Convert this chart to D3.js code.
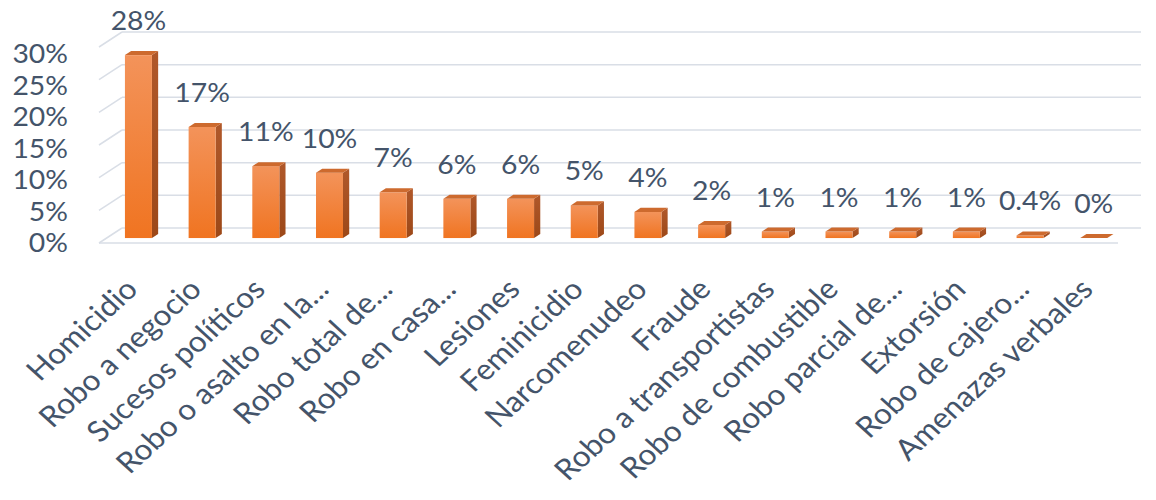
<!DOCTYPE html>
<html>
<head>
<meta charset="utf-8">
<script src="https://cdn.jsdelivr.net/npm/d3@7/dist/d3.min.js"></script>
<style>
  html, body { margin: 0; padding: 0; background: #ffffff; }
  svg { display: block; }
  text { font-family: Lato, "Open Sans", sans-serif; fill: #44546a; }
</style>
</head>
<body>
<svg id="chart" width="1156" height="500"></svg>
<script>
const categories = [
  "Homicidio", "Robo a negocio", "Sucesos políticos", "Robo o asalto en la...",
  "Robo total de...", "Robo en casa...", "Lesiones", "Feminicidio",
  "Narcomenudeo", "Fraude", "Robo a transportistas", "Robo de combustible",
  "Robo parcial de...", "Extorsión", "Robo de cajero...", "Amenazas verbales"
];
const values = [28, 17, 11, 10, 7, 6, 6, 5, 4, 2, 1, 1, 1, 1, 0.4, 0];
const valueLabels = ["28%", "17%", "11%", "10%", "7%", "6%", "6%", "5%", "4%", "2%", "1%", "1%", "1%", "1%", "0.4%", "0%"];
const yTicks = [0, 5, 10, 15, 20, 25, 30];

const svg = d3.select("#chart");
const DX = 23, DY = 15;          // depth offset of the 3D box
const D0 = 0.33, D1 = 0.6;       // bar depth span
const SX = 1.09;                 // horizontal stretch of the text

const x = d3.scaleBand().domain(categories).range([99, 1118])
  .paddingInner(0.576).paddingOuter(0.288);
const y = d3.scaleLinear().domain([0, 30]).range([243, 47]);
const yLab = d3.scaleLinear().domain([0, 30]).range([243, 54]);

const P = (px, v, d) => [px + d * DX, y(v) - d * DY];

// gradients
const defs = svg.append("defs");
const gFront = defs.append("linearGradient").attr("id", "gFront").attr("x1", 0).attr("y1", 0).attr("x2", 0).attr("y2", 1);
gFront.append("stop").attr("offset", "0%").attr("stop-color", "#f3935a");
gFront.append("stop").attr("offset", "100%").attr("stop-color", "#f07421");
const gSide = defs.append("linearGradient").attr("id", "gSide").attr("x1", 0).attr("y1", 0).attr("x2", 0).attr("y2", 1);
gSide.append("stop").attr("offset", "0%").attr("stop-color", "#b0582a");
gSide.append("stop").attr("offset", "100%").attr("stop-color", "#9c4818");

// grid: back wall, side wall, floor
const grid = svg.append("g").attr("stroke", "#d9dee6").attr("stroke-width", 1.5).attr("fill", "none");
yTicks.forEach(v => {
  const a = P(99, v, 1), b = P(1118, v, 1), f = P(99, v, 0);
  grid.append("line").attr("x1", a[0]).attr("y1", a[1]).attr("x2", b[0]).attr("y2", b[1]);
  grid.append("line").attr("x1", f[0]).attr("y1", f[1]).attr("x2", a[0]).attr("y2", a[1]);
});
{
  const a = P(99, 0, 0), b = P(1118, 0, 0);
  grid.append("line").attr("x1", a[0]).attr("y1", a[1]).attr("x2", b[0]).attr("y2", b[1]);
}

// y axis labels
const yAxis = d3.axisLeft(yLab).tickValues(yTicks).tickSize(0).tickPadding(0).tickFormat(d => d + "%");
const ya = svg.append("g").attr("transform", "translate(68,0)").call(yAxis);
ya.select(".domain").remove();
ya.selectAll(".tick").attr("transform", d => `translate(0,${yLab(d)}) scale(${SX},1)`);
ya.selectAll("text").attr("font-size", 26).attr("font-family", "Lato, sans-serif").attr("fill", "#44546a").attr("dy", "0.35em");

// bars
const poly = pts => pts.map(p => p.join(",")).join(" ");
const bars = svg.append("g");
categories.forEach((c, i) => {
  const v = values[i];
  const bx = x(c), bw = x.bandwidth();
  bars.append("polygon").attr("fill", "url(#gSide)")
    .attr("points", poly([P(bx + bw, 0, D0), P(bx + bw, v, D0), P(bx + bw, v, D1), P(bx + bw, 0, D1)]));
  const f0 = P(bx, v, D0), f1 = P(bx + bw, 0, D0);
  if (f1[1] - f0[1] > 0) {
    bars.append("rect").attr("fill", "url(#gFront)")
      .attr("x", f0[0]).attr("y", f0[1]).attr("width", f1[0] - f0[0]).attr("height", f1[1] - f0[1]);
  }
  bars.append("polygon").attr("fill", "#cd6a2e")
    .attr("points", poly([P(bx, v, D0), P(bx + bw, v, D0), P(bx + bw, v, D1), P(bx, v, D1)]));
});

// data labels
svg.append("g").selectAll("text").data(categories).join("text")
  .attr("transform", (c, i) => `translate(${x(c) + x.bandwidth() / 2 + D0 * DX},${y(values[i]) - D1 * DY - 30}) scale(${SX},1)`)
  .attr("dy", "0.35em")
  .attr("text-anchor", "middle")
  .attr("font-size", 26)
  .text((c, i) => valueLabels[i]);

// category labels
svg.append("g").selectAll("text").data(categories).join("text")
  .attr("transform", c => `translate(${x(c) + x.bandwidth() / 2 + D0 * DX + 1},291) scale(${SX},1) rotate(-45)`)
  .attr("text-anchor", "end")
  .attr("font-size", 29)
  .text(c => c);
</script>
</body>
</html>
